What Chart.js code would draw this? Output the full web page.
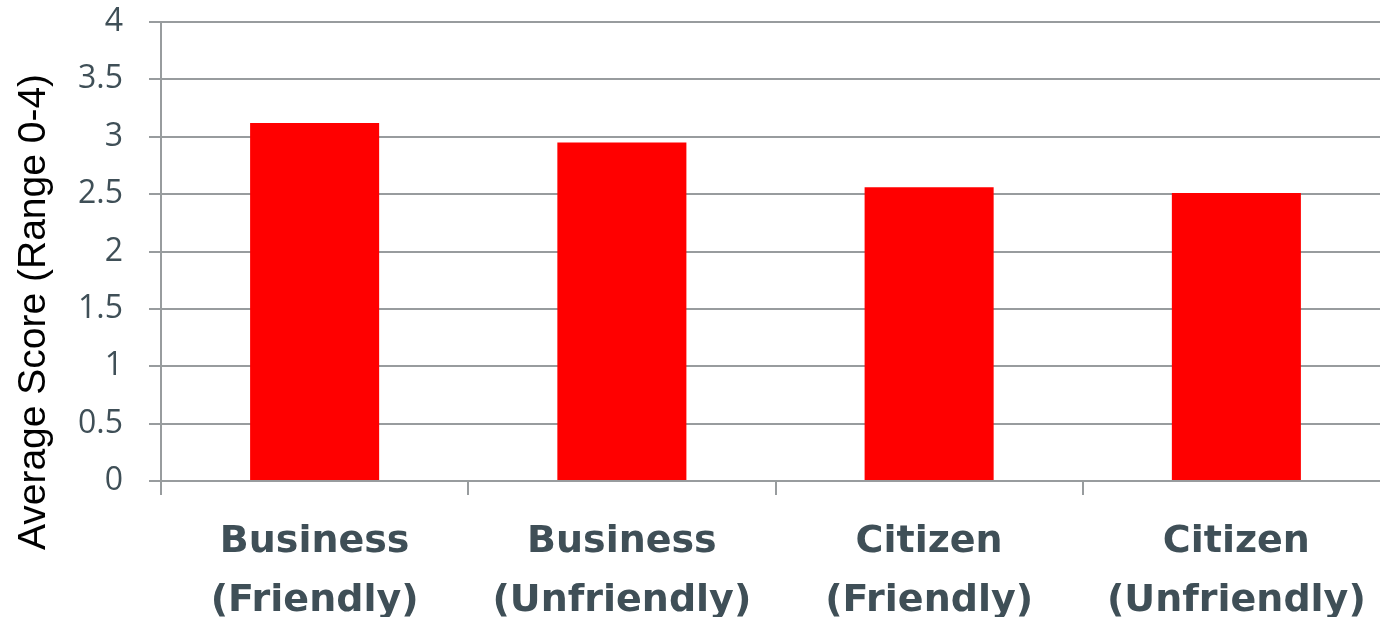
<!DOCTYPE html>
<html>
<head>
<meta charset="utf-8">
<script src="https://cdn.jsdelivr.net/npm/chart.js@4"></script>
<style>
  html, body { margin: 0; padding: 0; background: #fff; overflow: hidden; }
  /* the plot runs a little past the right edge of the picture */
  #wrap { width: 1380px; height: 617px; overflow: hidden; }
</style>
</head>
<body>
<div id="wrap"><canvas id="chart" width="1390" height="617"></canvas></div>
<script>
const categories = [
  ['Business', '(Friendly)'],
  ['Business', '(Unfriendly)'],
  ['Citizen', '(Friendly)'],
  ['Citizen', '(Unfriendly)']
];
const scores = [3.12, 2.95, 2.56, 2.51];
const yTitle = 'Average Score (Range 0-4)';

const gridColor = '#989c9e';
const labelColor = '#3f4f57';

// y axis title sits a bit lower than the plot centre, so draw it by hand
const yTitlePlugin = {
  id: 'yTitle',
  afterDraw(chart) {
    const ctx = chart.ctx;
    ctx.save();
    ctx.translate(45, 312);
    ctx.rotate(-Math.PI / 2);
    ctx.font = '39px "Liberation Sans", Arial, sans-serif';
    ctx.fillStyle = '#000';
    ctx.textAlign = 'center';
    ctx.textBaseline = 'alphabetic';
    ctx.fillText(yTitle, 0, 0);
    ctx.restore();
  }
};

const canvas = document.getElementById('chart');

new Chart(canvas, {
  type: 'bar',
  data: {
    labels: categories,
    datasets: [{
      label: 'Average Score',
      data: scores,
      backgroundColor: '#ff0000',
      borderWidth: 0,
      categoryPercentage: 1,
      barPercentage: 0.42
    }]
  },
  options: {
    responsive: false,
    animation: false,
    layout: { padding: { top: 22, right: 0, bottom: 0, left: 0 } },
    plugins: {
      legend: { display: false },
      tooltip: { enabled: false }
    },
    scales: {
      x: {
        grid: {
          offset: true,
          drawOnChartArea: false,
          drawTicks: true,
          tickLength: 14,
          color: gridColor,
          lineWidth: 2
        },
        border: { display: true, color: gridColor, width: 2 },
        ticks: {
          color: labelColor,
          font: { family: '"DejaVu Sans", sans-serif', size: 38, weight: 'bold', lineHeight: 1.55 },
          padding: 18,
          maxRotation: 0,
          autoSkip: false
        },
        afterFit(scale) {
          scale.height = 136;
          scale.paddingTop = 0;
          scale.paddingLeft = 0;
          scale.paddingRight = 0;
        }
      },
      y: {
        min: 0,
        max: 4,
        grid: {
          color: gridColor,
          lineWidth: 2,
          tickLength: 12
        },
        border: { display: true, color: gridColor, width: 2 },
        ticks: {
          stepSize: 0.5,
          color: labelColor,
          font: { family: '"Open Sans", sans-serif', size: 32 },
          padding: 26,
          callback: (v) => String(v)
        },
        afterFit(scale) {
          scale.width = 161;
          scale.paddingTop = 0;
          scale.paddingBottom = 0;
        }
      }
    }
  },
  plugins: [yTitlePlugin]
});
</script>
</body>
</html>
